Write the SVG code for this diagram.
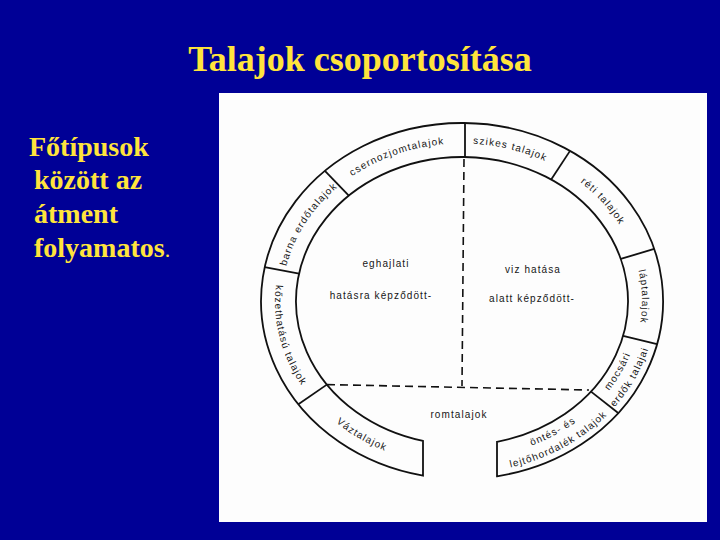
<svg xmlns="http://www.w3.org/2000/svg" width="720" height="540" viewBox="0 0 720 540">
<style>
.bg{fill:#000096}
.ttl{font-family:"Liberation Serif","Times New Roman",serif;fill:#FFE43C}
.lbl{font-family:"Liberation Sans",Arial,sans-serif;font-size:10px;letter-spacing:1.1px;fill:#161616}
.ln{fill:none;stroke:#111;stroke-width:1.8}
.dash{fill:none;stroke:#111;stroke-width:1.6;stroke-dasharray:8 5}
</style>
<defs>
<path id="pBarna" d="M282.03,303.75 A180,157.5 0 0 1 369.29,166.0"/>
<path id="pCsern" d="M320.16,204.03 A180,157.5 0 0 1 487.05,145.03"/>
<path id="pSzik" d="M418.45,148.18 A180,157.5 0 0 1 591.48,191.59"/>
<path id="pReti" d="M529.43,154.97 A180,157.5 0 0 1 640.25,279.08"/>
<path id="pLap" d="M615.48,218.71 A180,157.5 0 0 1 620.19,376.15"/>
<path id="pKoz" d="M283.65,251.53 A187,164.5 0 0 0 324.13,412.13"/>
<path id="pVaz" d="M293.93,373.11 A187,164.5 0 0 0 448.95,465.10"/>
<path id="pMoc1" d="M560.80,431.92 A179,157 0 0 0 640.67,291.42"/>
<path id="pMoc2" d="M569.08,444.43 A194,172 0 0 0 655.64,290.50"/>
<path id="pOnt1" d="M468.25,457.90 A179,157 0 0 0 620.05,374.71"/>
<path id="pOnt2" d="M468.77,472.90 A194,172 0 0 0 633.29,381.75"/>
</defs>
<rect class="bg" x="0" y="0" width="720" height="540"/>
<text class="ttl" x="360" y="71" text-anchor="middle" font-size="36" font-weight="bold">Talajok csoportosítása</text>
<g id="side-text" class="ttl" font-size="28" font-weight="bold">
<text x="29" y="156">Főtípusok</text>
<text x="34" y="189">között az</text>
<text x="34" y="223">átment</text>
<text x="34" y="257">folyamatos<tspan font-weight="normal" font-size="22">.</tspan></text>
</g>
<rect x="219" y="93" width="488" height="429" fill="#fdfdfd"/>
<g id="ring">
<path class="ln" d="M423,440.97 L423,475.6 A201,178 0 1 1 497,476.28 L497,441.76 A166,144 0 1 0 423,440.97 Z"/>
</g>
<g id="connectors">
<line class="ln" x1="326.86" y1="384.62" x2="298.36" y2="404.36"/>
<line class="ln" x1="299.05" y1="273.52" x2="264.69" y2="267.04"/>
<line class="ln" x1="348.79" y1="195.69" x2="324.92" y2="170.82"/>
<line class="ln" x1="465" y1="157" x2="465" y2="123"/>
<line class="ln" x1="551.19" y1="179.55" x2="570.0" y2="150.88"/>
<line class="ln" x1="620.75" y1="258.90" x2="654.22" y2="248.96"/>
<line class="ln" x1="623.07" y1="335.84" x2="657.03" y2="344.06"/>
<line class="ln" x1="591.01" y1="391.62" x2="618.21" y2="413.02"/>
<line class="dash" x1="464" y1="159" x2="462" y2="386"/>
<line class="dash" x1="327" y1="384.6" x2="589" y2="390"/>
</g>
<g id="barna"><text class="lbl"><textPath href="#pBarna" startOffset="50%" text-anchor="middle">barna erdőtalajok</textPath></text></g>
<g id="csernozjom"><text class="lbl"><textPath href="#pCsern" startOffset="50%" text-anchor="middle">csernozjomtalajok</textPath></text></g>
<g id="szikes"><text class="lbl"><textPath href="#pSzik" startOffset="50%" text-anchor="middle">szikes talajok</textPath></text></g>
<g id="reti"><text class="lbl"><textPath href="#pReti" startOffset="50%" text-anchor="middle">réti talajok</textPath></text></g>
<g id="lap"><text class="lbl"><textPath href="#pLap" startOffset="50%" text-anchor="middle">láptalajok</textPath></text></g>
<g id="mocsari">
<text class="lbl"><textPath href="#pMoc1" startOffset="50%" text-anchor="middle">mocsári</textPath></text>
<text class="lbl"><textPath href="#pMoc2" startOffset="50%" text-anchor="middle">erdők talajai</textPath></text>
</g>
<g id="ontes">
<text class="lbl"><textPath href="#pOnt1" startOffset="50%" text-anchor="middle">öntés- és</textPath></text>
<text class="lbl"><textPath href="#pOnt2" startOffset="50%" text-anchor="middle">lejtőhordalék talajok</textPath></text>
</g>
<g id="vaz"><text class="lbl"><textPath href="#pVaz" startOffset="50%" text-anchor="middle">Váztalajok</textPath></text></g>
<g id="kozet"><text class="lbl"><textPath href="#pKoz" startOffset="50%" text-anchor="middle">kőzethatású talajok</textPath></text></g>
<g id="eghajlati">
<text class="lbl" x="386" y="267" text-anchor="middle">eghajlati</text>
<text class="lbl" x="381" y="299" text-anchor="middle">hatásra képződött-</text>
</g>
<g id="viz">
<text class="lbl" x="533" y="273" text-anchor="middle">viz hatása</text>
<text class="lbl" x="532" y="302" text-anchor="middle">alatt képződött-</text>
</g>
<g id="rom"><text class="lbl" x="459" y="418" text-anchor="middle">romtalajok</text></g>
</svg>
